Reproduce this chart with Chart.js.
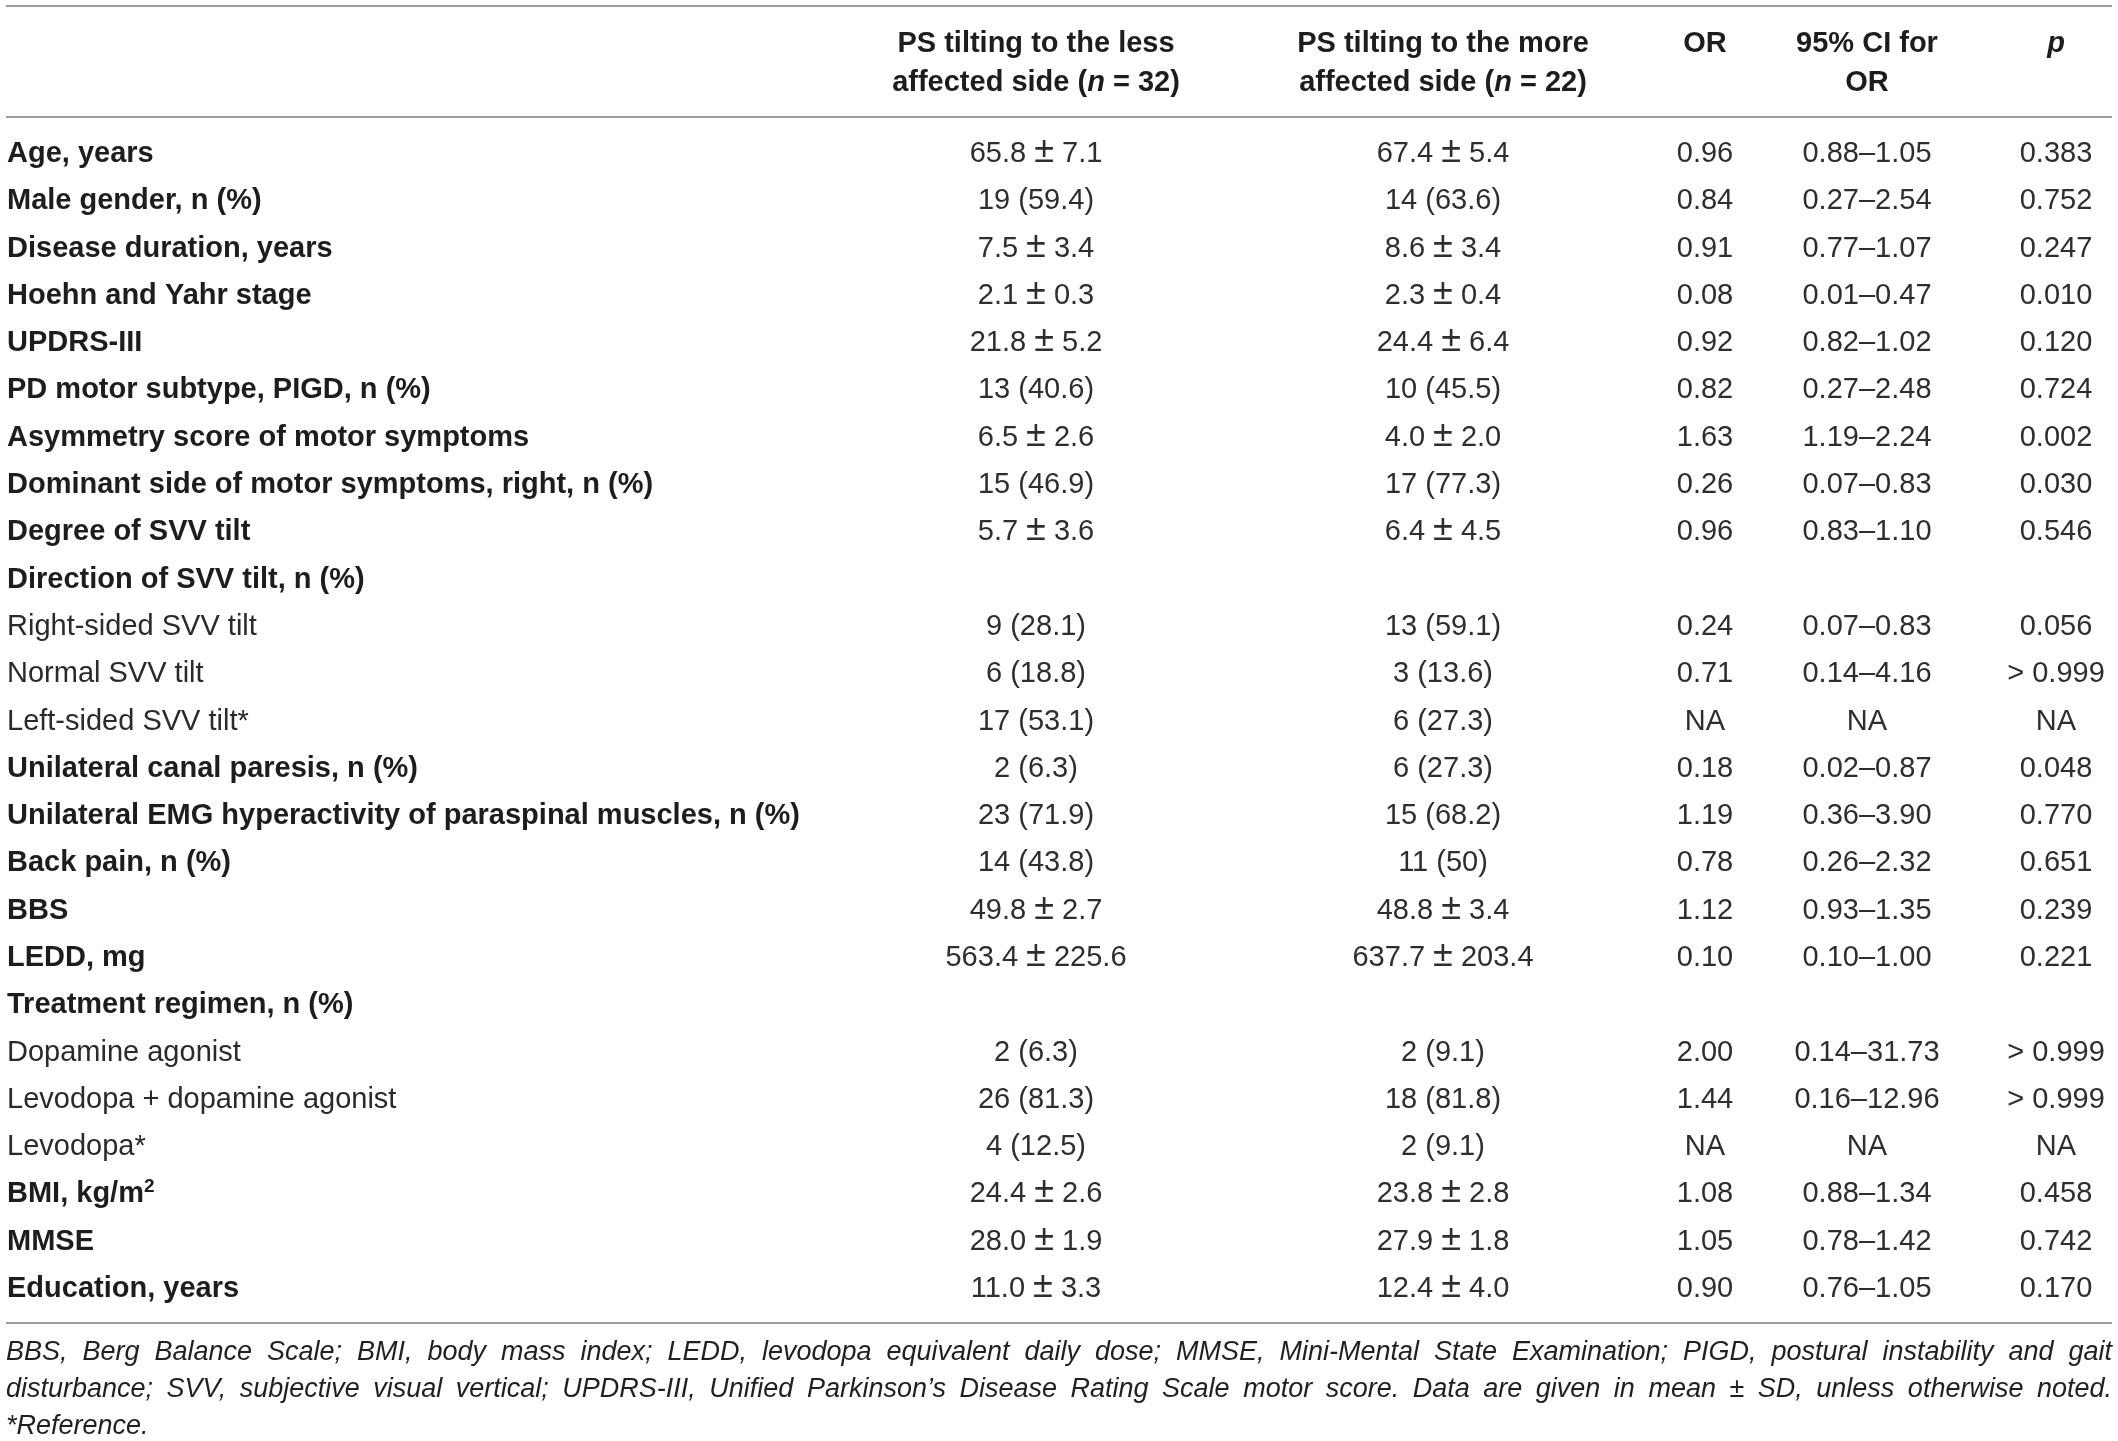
<!DOCTYPE html>
<html><head><meta charset="utf-8">
<script src="https://cdn.jsdelivr.net/npm/chart.js@4.4.1/dist/chart.umd.min.js"></script>
<style>
html,body{margin:0;padding:0;background:#fff;}
#wrap{position:absolute;left:0;top:0;width:2118px;height:1441px;}
#note{position:absolute;left:6px;top:1333px;width:2106px;font:italic 24px/37px "Liberation Sans",Arial,Helvetica,sans-serif;color:#231f20;}
#note div{text-align:justify;text-align-last:justify;white-space:nowrap;}
#note div.last{text-align-last:left;}
</style></head><body>
<div id="wrap"><canvas id="c"></canvas></div>
<div id="note">
<div>BBS, Berg Balance Scale; BMI, body mass index; LEDD, levodopa equivalent daily dose; MMSE, Mini-Mental State Examination; PIGD, postural instability and gait</div>
<div>disturbance; SVV, subjective visual vertical; UPDRS-III, Unified Parkinson’s Disease Rating Scale motor score. Data are given in mean ± SD, unless otherwise noted.</div>
<div class="last">*Reference.</div>
</div>
<script>
// ---------- DATA ----------
const rowLabels = [
  "Age, years",
  "Male gender, n (%)",
  "Disease duration, years",
  "Hoehn and Yahr stage",
  "UPDRS-III",
  "PD motor subtype, PIGD, n (%)",
  "Asymmetry score of motor symptoms",
  "Dominant side of motor symptoms, right, n (%)",
  "Degree of SVV tilt",
  "Direction of SVV tilt, n (%)",
  "Right-sided SVV tilt",
  "Normal SVV tilt",
  "Left-sided SVV tilt*",
  "Unilateral canal paresis, n (%)",
  "Unilateral EMG hyperactivity of paraspinal muscles, n (%)",
  "Back pain, n (%)",
  "BBS",
  "LEDD, mg",
  "Treatment regimen, n (%)",
  "Dopamine agonist",
  "Levodopa + dopamine agonist",
  "Levodopa*",
  "BMI, kg/m²",
  "MMSE",
  "Education, years"
];
// rows that are sub-categories of the preceding group heading
const subCategoryRows = ["Right-sided SVV tilt", "Normal SVV tilt", "Left-sided SVV tilt*",
  "Dopamine agonist", "Levodopa + dopamine agonist", "Levodopa*"];

const lessAffectedSide = [
  "65.8 ± 7.1", "19 (59.4)", "7.5 ± 3.4", "2.1 ± 0.3", "21.8 ± 5.2", "13 (40.6)",
  "6.5 ± 2.6", "15 (46.9)", "5.7 ± 3.6", "", "9 (28.1)", "6 (18.8)", "17 (53.1)",
  "2 (6.3)", "23 (71.9)", "14 (43.8)", "49.8 ± 2.7", "563.4 ± 225.6", "",
  "2 (6.3)", "26 (81.3)", "4 (12.5)", "24.4 ± 2.6", "28.0 ± 1.9", "11.0 ± 3.3"
];
const moreAffectedSide = [
  "67.4 ± 5.4", "14 (63.6)", "8.6 ± 3.4", "2.3 ± 0.4", "24.4 ± 6.4", "10 (45.5)",
  "4.0 ± 2.0", "17 (77.3)", "6.4 ± 4.5", "", "13 (59.1)", "3 (13.6)", "6 (27.3)",
  "6 (27.3)", "15 (68.2)", "11 (50)", "48.8 ± 3.4", "637.7 ± 203.4", "",
  "2 (9.1)", "18 (81.8)", "2 (9.1)", "23.8 ± 2.8", "27.9 ± 1.8", "12.4 ± 4.0"
];
const oddsRatios = [
  "0.96", "0.84", "0.91", "0.08", "0.92", "0.82", "1.63", "0.26", "0.96", "",
  "0.24", "0.71", "NA", "0.18", "1.19", "0.78", "1.12", "0.10", "",
  "2.00", "1.44", "NA", "1.08", "1.05", "0.90"
];
const ci95ForOR = [
  "0.88–1.05", "0.27–2.54", "0.77–1.07", "0.01–0.47", "0.82–1.02", "0.27–2.48",
  "1.19–2.24", "0.07–0.83", "0.83–1.10", "", "0.07–0.83", "0.14–4.16", "NA",
  "0.02–0.87", "0.36–3.90", "0.26–2.32", "0.93–1.35", "0.10–1.00", "",
  "0.14–31.73", "0.16–12.96", "NA", "0.88–1.34", "0.78–1.42", "0.76–1.05"
];
const pValues = [
  "0.383", "0.752", "0.247", "0.010", "0.120", "0.724", "0.002", "0.030", "0.546", "",
  "0.056", "> 0.999", "NA", "0.048", "0.770", "0.651", "0.239", "0.221", "",
  "> 0.999", "> 0.999", "NA", "0.458", "0.742", "0.170"
];
// header cells: lines of [text, style] segments (b = bold, bi = bold italic)
const columnHeaders = [
  [[["PS tilting to the less", "b"]], [["affected side (", "b"], ["n", "bi"], [" = 32)", "b"]]],
  [[["PS tilting to the more", "b"]], [["affected side (", "b"], ["n", "bi"], [" = 22)", "b"]]],
  [[["OR", "b"]]],
  [[["95% CI for", "b"]], [["OR", "b"]]],
  [[["p", "bi"]]]
];
const columnValues = [lessAffectedSide, moreAffectedSide, oddsRatios, ci95ForOR, pValues];

// ---------- LAYOUT ----------
const TABLE_W = 2118;
const LABEL_X = 7;
const COL_CENTER = [1036, 1443, 1705, 1867, 2056];
const RULES_Y = [6, 117, 1323];
const HEADER_BASE = [52, 91];
const FONT = '"Liberation Sans", Arial, Helvetica, sans-serif';
const FS = 29;

function fontFor(style, size) {
  if (style === 'b') return 'bold ' + size + 'px ' + FONT;
  if (style === 'bi') return 'italic bold ' + size + 'px ' + FONT;
  if (style === 'i') return 'italic ' + size + 'px ' + FONT;
  return size + 'px ' + FONT;
}

// segments: [text, style, size]
function drawSegments(ctx, segs, cx, baseY, color, align) {
  let total = 0;
  segs.forEach(s => { ctx.font = fontFor(s[1], s[2] || FS); total += ctx.measureText(s[0]).width; });
  let xx = align === 'left' ? cx : cx - total / 2;
  ctx.fillStyle = color;
  ctx.textAlign = 'left';
  segs.forEach(s => {
    ctx.font = fontFor(s[1], s[2] || FS);
    ctx.fillText(s[0], xx, baseY - (s[3] || 0));
    xx += ctx.measureText(s[0]).width;
  });
}

function valueSegments(txt) {
  const k = txt.indexOf('±');
  if (k < 0) return [[txt, '', FS]];
  return [[txt.slice(0, k), '', FS], ['±', '', Math.round(FS * 1.25)], [txt.slice(k + 1), '', FS]];
}

const tablePlugin = {
  id: 'tableText',
  afterDraw(chart) {
    const { ctx, scales } = chart;
    const xs = scales.x, ys = scales.y;
    ctx.save();
    ctx.strokeStyle = '#9b9b9b';
    ctx.lineWidth = 2;
    RULES_Y.forEach(yy => {
      ctx.beginPath();
      ctx.moveTo(xs.getPixelForValue(6), yy);
      ctx.lineTo(xs.getPixelForValue(2112), yy);
      ctx.stroke();
    });
    ctx.textBaseline = 'alphabetic';
    columnHeaders.forEach((lines, c) => {
      const cx = xs.getPixelForValue(COL_CENTER[c]);
      lines.forEach((segs, li) => drawSegments(ctx, segs, cx, HEADER_BASE[li], '#1f1c1d'));
    });
    rowLabels.forEach((label, i) => {
      const cy = ys.getPixelForValue(i);
      const base = cy + 10;
      const isSub = subCategoryRows.includes(label);
      const st = isSub ? '' : 'b';
      const lx = xs.getPixelForValue(LABEL_X);
      const color = isSub ? '#2a2a2a' : '#1f1c1d';
      if (label.includes('²')) {
        drawSegments(ctx, [[label.replace('²', ''), st, FS], ['2', st, Math.round(FS * 0.66), FS * 0.36]], lx, base, color, 'left');
      } else {
        drawSegments(ctx, [[label, st, FS]], lx, base, color, 'left');
      }
      columnValues.forEach((arr, c) => {
        if (arr[i]) drawSegments(ctx, valueSegments(arr[i]), xs.getPixelForValue(COL_CENTER[c]), base, '#2e2e2e');
      });
    });
    ctx.restore();
  }
};

new Chart(document.getElementById('c'), {
  type: 'bar',
  data: {
    labels: rowLabels,
    datasets: [{ data: rowLabels.map(() => null) }]
  },
  options: {
    indexAxis: 'y',
    responsive: true,
    maintainAspectRatio: false,
    animation: false,
    events: [],
    layout: { padding: { left: 0, right: 0, top: 128.35, bottom: 130.35 } },
    plugins: { legend: { display: false }, tooltip: { enabled: false } },
    scales: {
      x: { type: 'linear', display: false, min: 0, max: TABLE_W },
      y: { type: 'category', display: false, offset: true }
    }
  },
  plugins: [tablePlugin]
});

// footnote: pick the largest italic size whose longest line still fits the table width
(function fitNote() {
  const note = document.getElementById('note');
  const c = document.createElement('canvas').getContext('2d');
  let maxW = 0;
  note.querySelectorAll('div').forEach(d => {
    c.font = 'italic 24px ' + FONT;
    maxW = Math.max(maxW, c.measureText(d.textContent).width);
  });
  const size = Math.min(27, Math.floor(24 * 2080 / maxW * 10) / 10);
  note.style.fontSize = size + 'px';
})();
</script>
</body></html>
